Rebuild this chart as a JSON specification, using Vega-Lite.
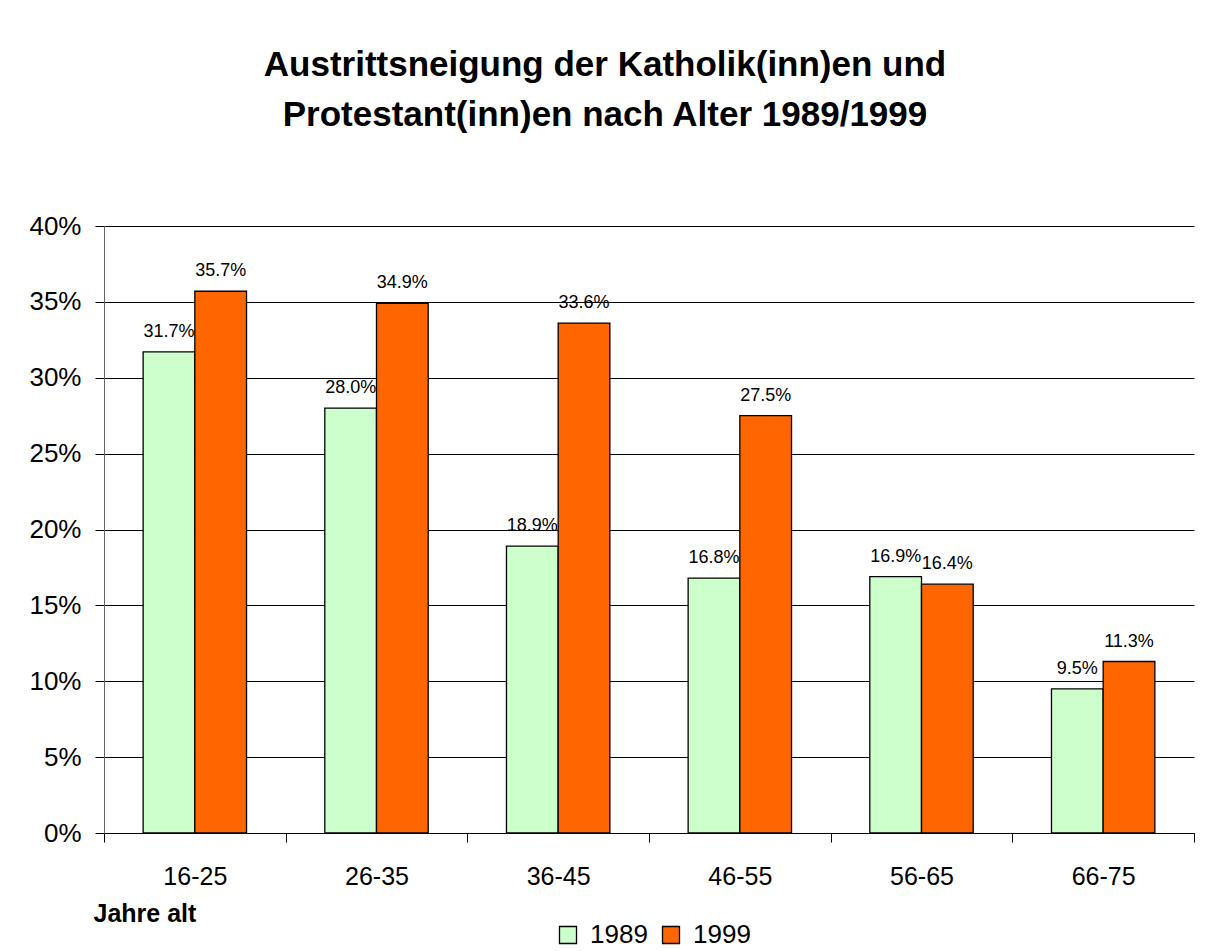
{
  "$schema": "https://vega.github.io/schema/vega-lite/v6.json",
  "width": 1090,
  "height": 607,
  "padding": {"left": 28, "top": 48, "right": 11, "bottom": 0},
  "background": "white",
  "title": {
    "text": ["Austrittsneigung der Katholik(inn)en und", "Protestant(inn)en nach Alter 1989/1999"],
    "font": "Liberation Sans",
    "fontSize": 35,
    "fontWeight": "bold",
    "color": "black",
    "lineHeight": 50,
    "anchor": "middle",
    "offset": 80,
    "dx": -44
  },
  "data": {
    "values": [
      {"age": "16-25", "year": "1989", "value": 0.317},
      {"age": "16-25", "year": "1999", "value": 0.357},
      {"age": "26-35", "year": "1989", "value": 0.280},
      {"age": "26-35", "year": "1999", "value": 0.349},
      {"age": "36-45", "year": "1989", "value": 0.189},
      {"age": "36-45", "year": "1999", "value": 0.336},
      {"age": "46-55", "year": "1989", "value": 0.168},
      {"age": "46-55", "year": "1999", "value": 0.275},
      {"age": "56-65", "year": "1989", "value": 0.169},
      {"age": "56-65", "year": "1999", "value": 0.164},
      {"age": "66-75", "year": "1989", "value": 0.095},
      {"age": "66-75", "year": "1999", "value": 0.113}
    ]
  },
  "encoding": {
    "x": {
      "field": "age",
      "type": "nominal",
      "sort": null,
      "scale": {"paddingInner": 0, "paddingOuter": 0},
      "axis": {
        "title": "Jahre alt",
        "titleFont": "Liberation Sans",
        "titleFontSize": 25,
        "titleFontWeight": "bold",
        "titleColor": "black",
        "titleAnchor": "start",
        "titleAlign": "left",
        "titleBaseline": "top",
        "titleX": -11,
        "titleY": 68,
        "labelAngle": 0,
        "labelFont": "Liberation Sans",
        "labelFontSize": 25,
        "labelColor": "black",
        "labelPadding": 22,
        "tickBand": "extent",
        "tickSize": 9,
        "tickColor": "black",
        "domainColor": "black",
        "grid": false
      }
    },
    "xOffset": {
      "field": "year",
      "type": "nominal",
      "scale": {"paddingInner": 0, "paddingOuter": 0.757}
    },
    "y": {
      "field": "value",
      "type": "quantitative",
      "scale": {"domain": [0, 0.4], "nice": false},
      "axis": {
        "title": null,
        "values": [0, 0.05, 0.1, 0.15, 0.2, 0.25, 0.3, 0.35, 0.4],
        "format": ".0%",
        "labelFont": "Liberation Sans",
        "labelFontSize": 26,
        "labelColor": "black",
        "labelPadding": 14,
        "tickSize": 9,
        "tickColor": "black",
        "domainColor": "#666666",
        "grid": true,
        "gridColor": "black",
        "gridWidth": 1
      }
    }
  },
  "layer": [
    {
      "mark": {"type": "bar", "stroke": "black", "strokeWidth": 1.3},
      "encoding": {
        "color": {
          "field": "year",
          "type": "nominal",
          "scale": {"domain": ["1989", "1999"], "range": ["#CCFFCC", "#FF6600"]},
          "legend": {
            "orient": "none",
            "legendX": 451,
            "legendY": 696,
            "direction": "horizontal",
            "title": null,
            "symbolType": "square",
            "symbolSize": 289,
            "symbolStrokeColor": "black",
            "symbolStrokeWidth": 1.3,
            "labelFont": "Liberation Sans",
            "labelFontSize": 26,
            "labelColor": "black",
            "labelOffset": 9,
            "columnPadding": 10
          }
        }
      }
    },
    {
      "mark": {
        "type": "text",
        "font": "Liberation Sans",
        "fontSize": 18,
        "color": "black",
        "baseline": "alphabetic",
        "dy": -15
      },
      "encoding": {
        "text": {"field": "value", "type": "quantitative", "format": ".1%"}
      }
    }
  ],
  "config": {
    "view": {"stroke": null}
  }
}
